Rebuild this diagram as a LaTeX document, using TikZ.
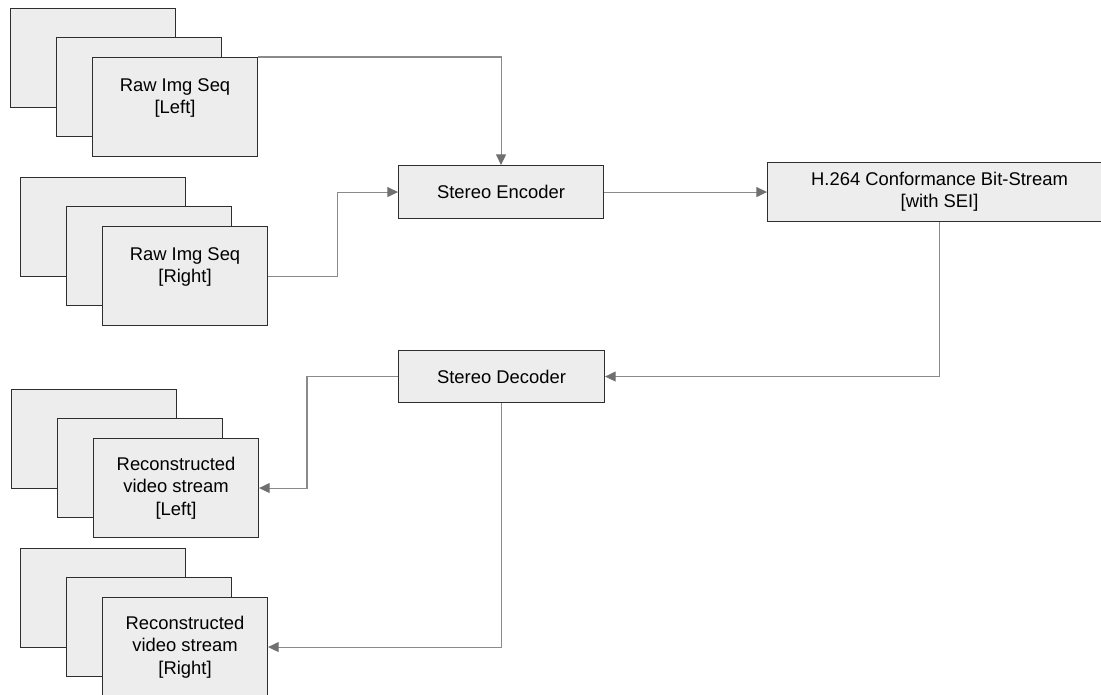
\documentclass[tikz,border=0pt]{standalone}
\usepackage{fontspec}
\setmainfont{Liberation Sans}
\usetikzlibrary{arrows.meta}

\definecolor{boxfill}{HTML}{EDEDED}
\definecolor{boxline}{HTML}{2E2E2E}
\definecolor{wire}{HTML}{8A8A8A}
\definecolor{tipfill}{HTML}{707070}

\tikzset{
	frame/.style = {draw=boxline, fill=boxfill, line width=0.8pt, anchor=north west, inner sep=0pt,
		align=center, font=\fontsize{13.8}{16.8}\selectfont},
	conn/.style = {draw=wire, line width=0.8pt, -{Triangle[length=8pt, width=7.5pt, fill=tipfill, color=tipfill]}},
}

\begin{document}
\begin{tikzpicture}[x=0.75pt, y=-0.75pt]
	\useasboundingbox (0,0) rectangle (1101,694);
	\foreach \n/\x/\y/\txt in {rawl/10/8/{Raw Img Seq\\{}[Left]\\\mbox{}}, rawr/20/177/{Raw Img Seq\\{}[Right]\\\mbox{}},
		recl/11/389/{Reconstructed\\video stream\\{}[Left]}, recr/20/548/{Reconstructed\\video stream\\{}[Right]}} {
		\node [frame, minimum width=123.75pt, minimum height=74.25pt] (\n-back) at (\x,\y) {};
		\node [frame, minimum width=123.75pt, minimum height=74.25pt] (\n-mid) at (\x+46,\y+29) {};
		\node [frame, minimum width=123.75pt, minimum height=74.25pt] (\n-front) at (\x+82,\y+49) {\txt};
	}
	\node [frame, minimum width=153.75pt, minimum height=39.75pt] (enc) at (398,165) {Stereo Encoder};
	\node [frame, minimum width=258pt, minimum height=44.25pt] (h264) at (767,162) {H.264 Conformance Bit-Stream\\{}[with SEI]};
	\node [frame, minimum width=154.5pt, minimum height=39pt] (dec) at (398,350) {Stereo Decoder};
	\draw [conn] (rawl-front.north east) -| (enc.north);
	\draw [conn] (rawr-front.east) -- ++(69,0) |- (enc.west);
	\draw [conn] (enc.east) -- (enc.east -| h264.west);
	\draw [conn] (h264.south) |- (dec.east);
	\draw [conn] (dec.west) -- ++(-91,0) |- (recl-front.east);
	\draw [conn] (dec.south) |- (recr-front.east);
\end{tikzpicture}
\end{document}
